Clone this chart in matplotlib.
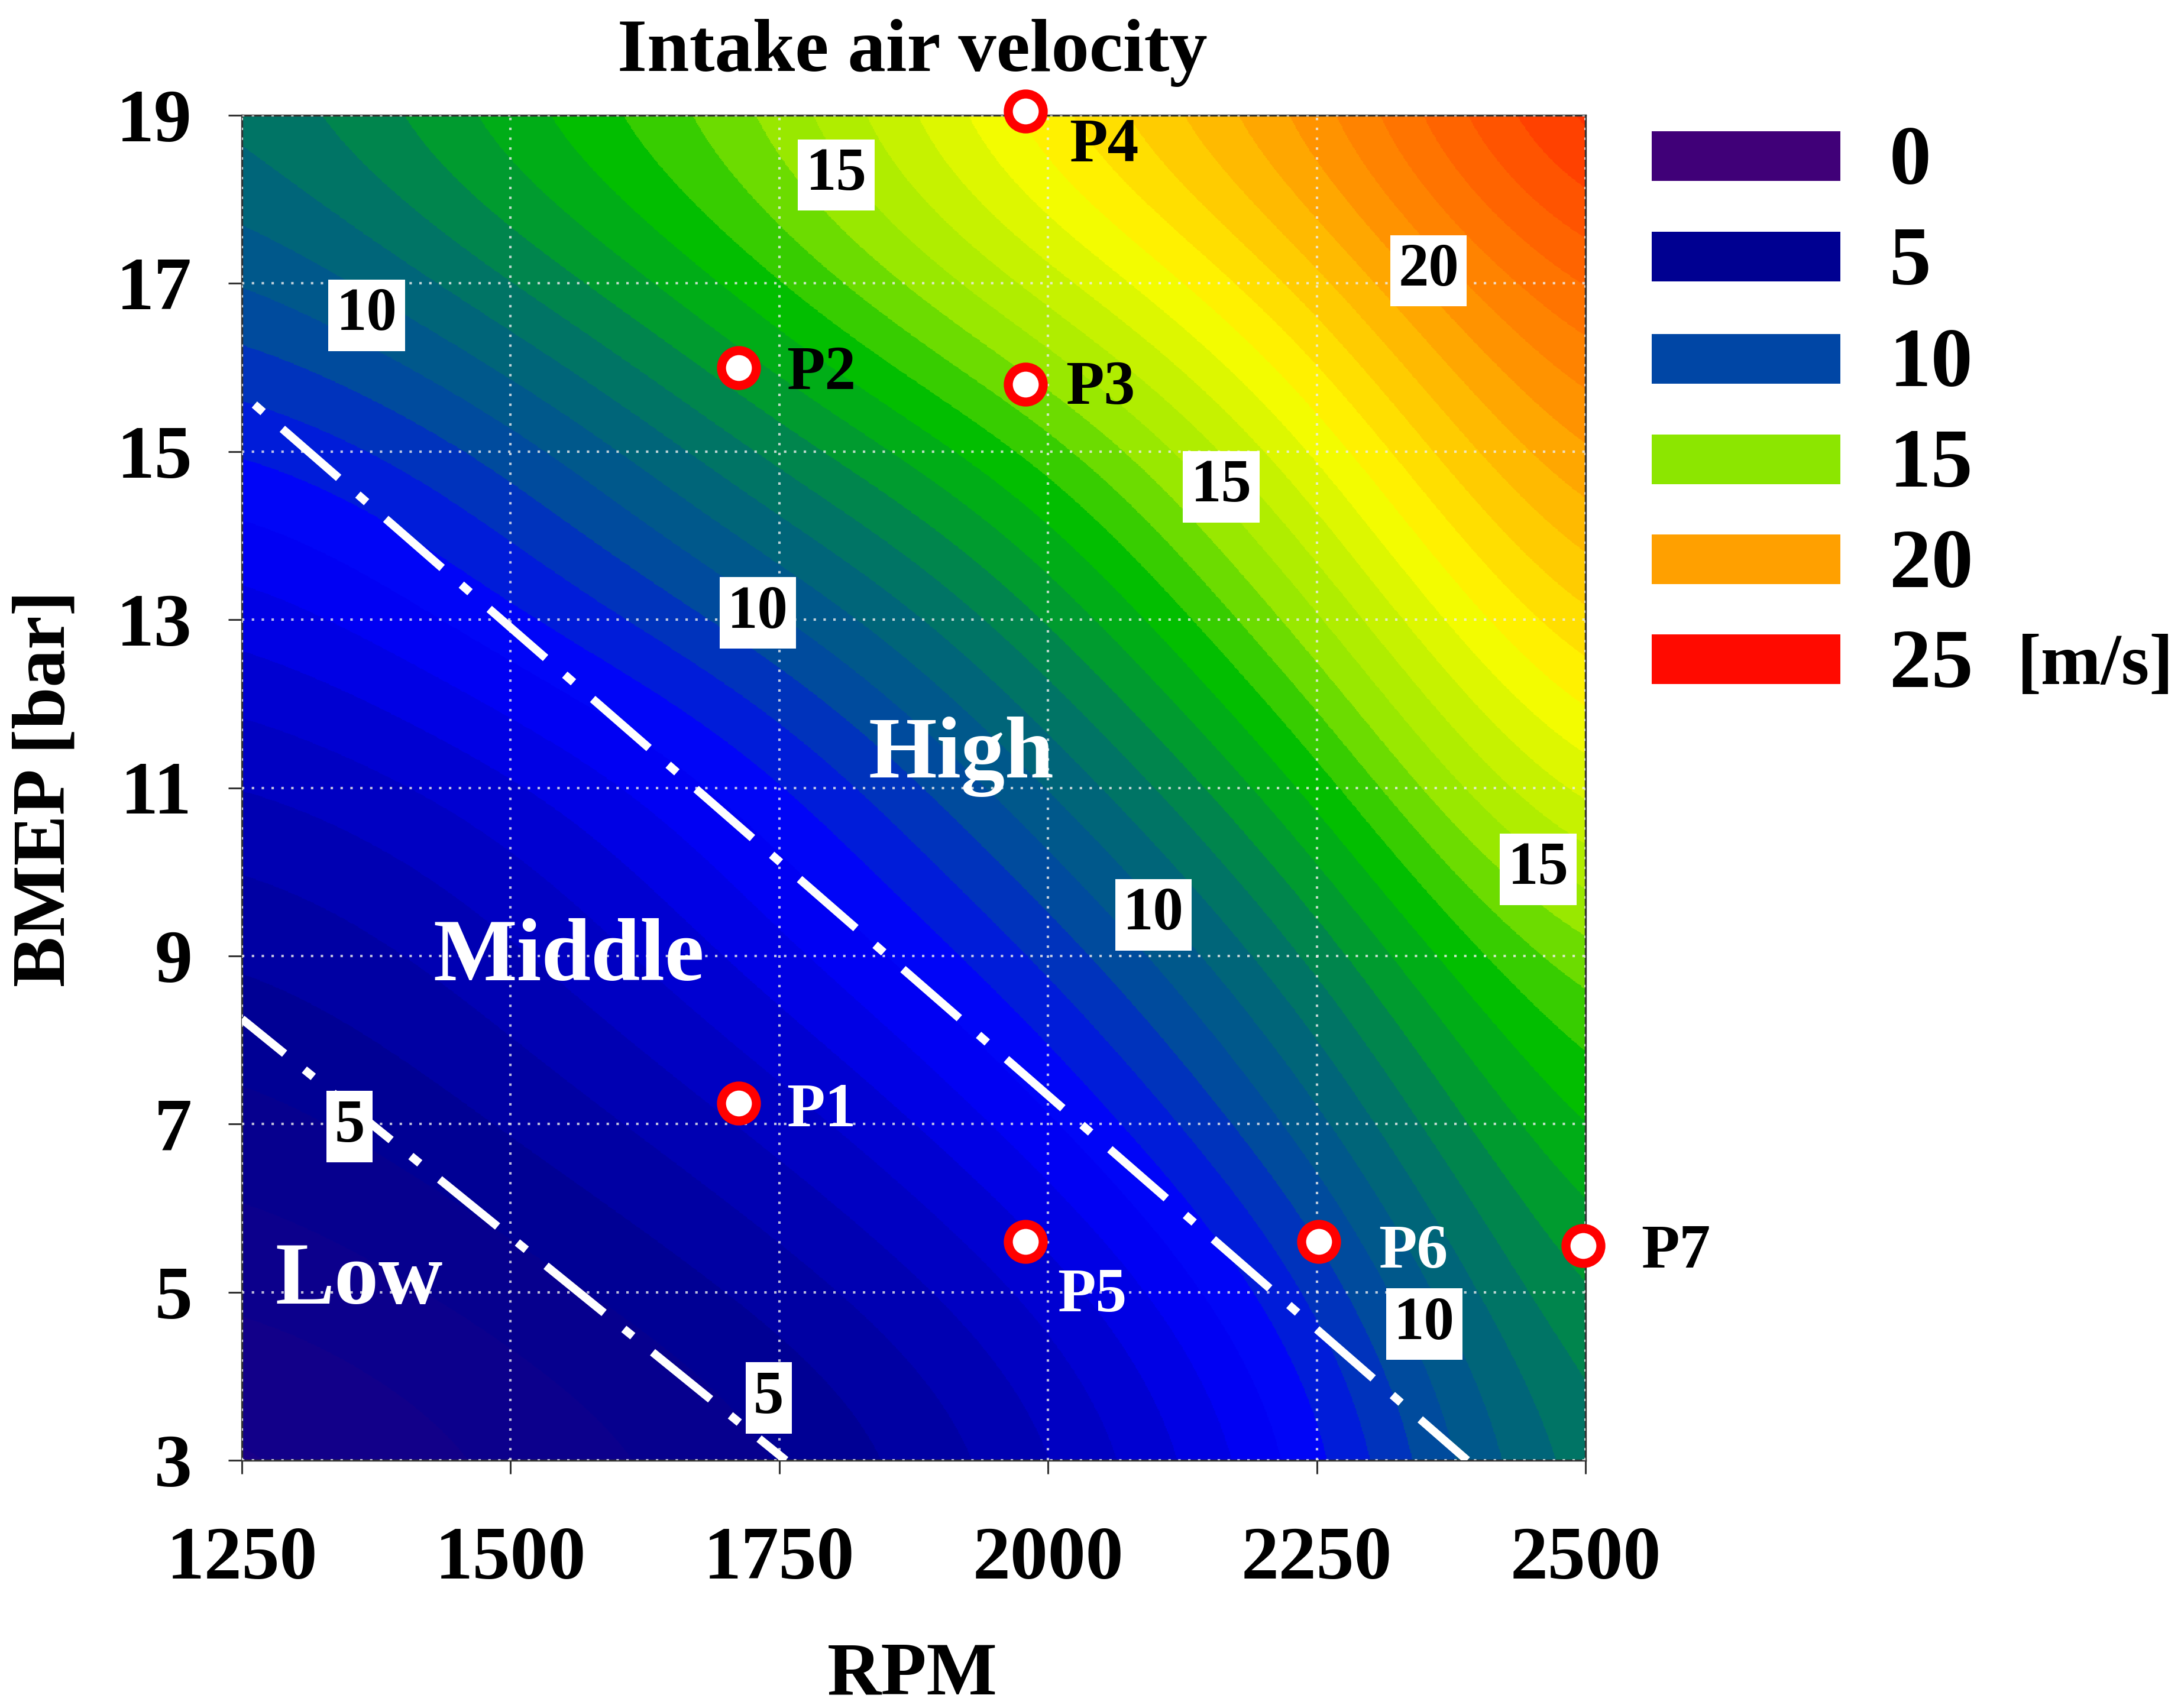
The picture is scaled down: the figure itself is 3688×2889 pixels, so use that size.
import matplotlib
matplotlib.use("Agg")
import matplotlib.pyplot as plt
import numpy as np
from matplotlib.colors import LinearSegmentedColormap, BoundaryNorm
from matplotlib.patches import Rectangle

plt.rcParams['font.family'] = ['Liberation Serif', 'DejaVu Serif']
plt.rcParams['font.weight'] = 'bold'

rpm = [1250, 1500, 1750, 2000, 2250, 2500]
bmep = [3, 5, 7, 9, 11, 13, 15, 17, 19]
velocity = [
    [3.2, 4.0, 4.8, 6.2, 8.5, 12.2],
    [4.0, 4.7, 5.6, 7.0, 9.4, 13.0],
    [4.7, 5.5, 6.6, 8.3, 10.7, 14.0],
    [5.4, 6.3, 7.8, 9.5, 12.0, 15.2],
    [6.3, 7.2, 8.8, 10.9, 13.5, 17.3],
    [7.5, 8.9, 10.3, 12.4, 15.3, 19.0],
    [8.8, 10.0, 12.2, 14.0, 17.0, 20.5],
    [10.3, 12.0, 14.0, 16.3, 18.7, 22.0],
    [11.5, 13.5, 15.2, 18.2, 20.3, 24.0],
]
cmap_values = [0, 5, 8.5, 10, 11.5, 13.7, 15, 17.5, 20, 25]
cmap_colors = ['#400078', '#000091', '#0000ff', '#0046a5', '#006e6e',
               '#00be00', '#8ce600', '#ffff00', '#ffa000', '#ff0000']
legend_values = ['0', '5', '10', '15', '20', '25']
legend_colors = ['#400078', '#000091', '#0046a5', '#8ce600', '#ffa000', '#ff0a00']
legend_tops = [222, 392, 565, 735, 904, 1073]

low_x, low_y = [1250, 1756], [8.25, 3.0]
high_x, high_y = [1258, 2390], [15.6, 3.0]

point_names = ['P1', 'P2', 'P3', 'P4', 'P5', 'P6', 'P7']
point_rpm = [1712, 1712, 1979, 1979, 1979, 2252, 2498]
point_bmep = [7.25, 16.0, 15.8, 19.05, 5.6, 5.6, 5.55]
point_text_colors = ['white', 'black', 'black', 'black', 'white', 'white', 'black']
point_text_rpm = [1789, 1789, 2049, 2052, 2041, 2340, 2584]
point_text_bmep = [7.15, 15.92, 15.75, 18.63, 4.95, 5.47, 5.47]

contour_labels = ['5', '5', '10', '10', '10', '10', '15', '15', '15', '20']
contour_label_rpm = [1350, 1740, 1366, 1730, 2098, 2350, 1803, 2161, 2456, 2354]
contour_label_bmep = [6.97, 3.74, 16.62, 13.08, 9.49, 4.62, 18.29, 14.58, 10.03, 17.15]

W, H = 3688, 2889
fig = plt.figure(figsize=(W / 100, H / 100), dpi=100, facecolor='white')
L, R, T, B = 409, 2681, 195, 2470
ax = fig.add_axes([L / W, 1 - B / H, (R - L) / W, (B - T) / H])

vmax = cmap_values[-1]
cmap = LinearSegmentedColormap.from_list(
    'jetlike', [(v / vmax, c) for v, c in zip(cmap_values, cmap_colors)], N=256)
half_x = (rpm[1] - rpm[0]) / 2
half_y = (bmep[1] - bmep[0]) / 2
ax.imshow(velocity, origin='lower', aspect='auto', cmap=cmap,
          extent=[rpm[0] - half_x, rpm[-1] + half_x, bmep[0] - half_y, bmep[-1] + half_y],
          interpolation='bicubic', interpolation_stage='data',
          norm=BoundaryNorm(np.arange(0, 25.5, 0.5), 256))

ax.set_xlim(1250, 2500)
ax.set_ylim(3, 19)
ax.set_xticks(range(1250, 2501, 250))
ax.set_yticks(range(3, 20, 2))
ax.grid(True, color='#eeeeee', linestyle=(0, (1, 3)), linewidth=3, alpha=0.8)
ax.set_axisbelow(False)
ax.tick_params(length=16.5, width=2.2, color='#333333', labelsize=92)
ax.tick_params(axis='x', pad=64)
ax.tick_params(axis='y', pad=44)
for s in ax.spines.values():
    s.set_linewidth(2.4)
    s.set_color('#333333')

ax.plot(low_x, low_y, color='white', linewidth=10,
        linestyle=(2.4, (9.1, 3.1, 1.4, 3.1)), zorder=4)
ax.plot(high_x, high_y, color='white', linewidth=10,
        linestyle=(11.56, (9.1, 3.1, 1.4, 3.1)), zorder=4)

for t, x, y in zip(contour_labels, contour_label_rpm, contour_label_bmep):
    ax.text(x, y, t, fontsize=74, color='black', ha='center', va='center', zorder=5,
            bbox=dict(boxstyle='square,pad=0.13', facecolor='white', edgecolor='none'))

ax.plot(point_rpm, point_bmep, linestyle='none', marker='o', markersize=42.5,
        markerfacecolor='white', markeredgecolor='#ff0000', markeredgewidth=11,
        clip_on=False, zorder=6)
for name, x, y, c in zip(point_names, point_text_rpm, point_text_bmep, point_text_colors):
    ax.text(x, y, name, fontsize=76, color=c, ha='center', va='center', zorder=6, clip_on=False)

ax.text(1919, 11.37, 'High', fontsize=107, color='white', ha='center', va='center', zorder=6)
ax.text(1554, 8.97, 'Middle', fontsize=108, color='white', ha='center', va='center', zorder=6)
ax.text(1359, 5.12, 'Low', fontsize=108, color='white', ha='center', va='center', zorder=6)

fig.text(656 / 1568, 1 - 38 / 1228, 'Intake air velocity', fontsize=92.5, ha='center', va='center')
fig.text(656 / 1568, 1 - 1205 / 1228, 'RPM', fontsize=91, ha='center', va='center')
fig.text(33 / 1568, 1 - 567 / 1228, 'BMEP [bar]', fontsize=92, rotation=90, ha='center', va='center')

for label, color, top in zip(legend_values, legend_colors, legend_tops):
    fig.add_artist(Rectangle((2793 / W, 1 - (top + 84) / H), 319 / W, 84 / H,
                             transform=fig.transFigure, facecolor=color, edgecolor='none'))
    fig.text(3195 / W, 1 - (top + 54) / H, label, fontsize=102, ha='left', va='center')
fig.text(3411 / W, 1 - 1128 / H, '[m/s]', fontsize=88, ha='left', va='center')

fig.savefig('out.png', dpi=100, facecolor='white')
